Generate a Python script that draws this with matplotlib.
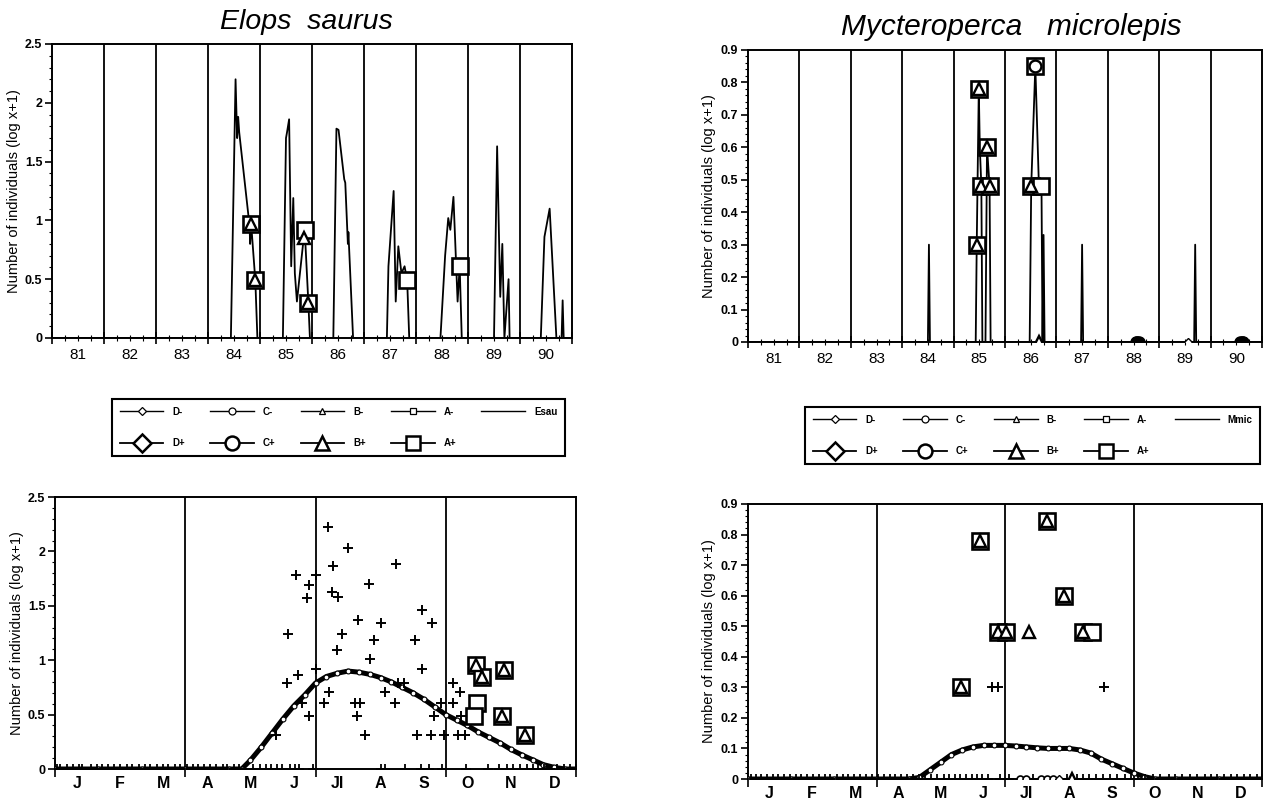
import matplotlib
matplotlib.use("Agg")
import matplotlib.pyplot as plt
from matplotlib.lines import Line2D
from matplotlib.ticker import MultipleLocator

plt.rcParams['font.family'] = ['Liberation Sans', 'DejaVu Sans']

# ---------------- DATA ----------------
year_labels = ['81', '82', '83', '84', '85', '86', '87', '88', '89', '90']
month_labels = ['J', 'F', 'M', 'A', 'M', 'J', 'Jl', 'A', 'S', 'O', 'N', 'D']

# Elops saurus time series (year, log x+1)
esau_t = [81.0, 84.44, 84.53, 84.56, 84.58, 84.60, 84.80, 84.81, 84.83, 84.91, 84.95,
          85.44, 85.50, 85.52, 85.56, 85.60, 85.64, 85.67, 85.71, 85.84, 85.86, 85.93, 85.96,
          86.41, 86.47, 86.51, 86.62, 86.64, 86.69, 86.70, 86.79,
          87.44, 87.47, 87.57, 87.61, 87.66, 87.72, 87.78, 87.83, 87.87,
          88.47, 88.56, 88.62, 88.66, 88.72, 88.80, 88.84, 88.88,
          89.50, 89.56, 89.62, 89.66, 89.70, 89.78, 89.80,
          90.40, 90.47, 90.57, 90.70, 90.80, 90.82, 90.84, 91.0]
esau_y = [0.0, 0.0, 2.20, 1.70, 1.88, 1.75, 0.95, 0.80, 0.97, 0.49, 0.0,
          0.0, 1.70, 1.75, 1.86, 0.61, 1.19, 0.55, 0.31, 0.85, 0.92, 0.30, 0.0,
          0.0, 1.78, 1.77, 1.35, 1.32, 0.80, 0.90, 0.0,
          0.0, 0.61, 1.25, 0.31, 0.78, 0.55, 0.61, 0.49, 0.0,
          0.0, 0.70, 1.02, 0.92, 1.20, 0.31, 0.61, 0.0,
          0.0, 1.63, 0.35, 0.80, 0.0, 0.50, 0.0,
          0.0, 0.86, 1.10, 0.0, 0.0, 0.32, 0.0, 0.0]
esau_Ap_t = [84.83, 84.91, 85.86, 85.93, 87.83, 88.84]
esau_Ap_y = [0.97, 0.49, 0.92, 0.30, 0.49, 0.61]
esau_Bp_t = [84.83, 84.91, 85.84, 85.93]
esau_Bp_y = [0.97, 0.49, 0.85, 0.30]

# Mycteroperca microlepis time series
mmic_t = [81.0, 84.50, 84.52, 84.54, 85.43, 85.45, 85.49, 85.51, 85.54, 85.56, 85.62, 85.65,
          85.70, 85.72, 86.48, 86.51, 86.59, 86.66, 86.71, 86.73, 86.75, 86.77,
          87.48, 87.50, 87.52, 89.68, 89.70, 89.72, 91.0]
mmic_y = [0.0, 0.0, 0.30, 0.0, 0.0, 0.30, 0.78, 0.60, 0.48, 0.0, 0.0, 0.60,
          0.48, 0.0, 0.0, 0.48, 0.85, 0.48, 0.48, 0.0, 0.33, 0.0,
          0.0, 0.30, 0.0, 0.0, 0.30, 0.0, 0.0]
mmic_Ap_t = [85.45, 85.49, 85.54, 85.65, 85.70, 86.59, 86.51, 86.71]
mmic_Ap_y = [0.30, 0.78, 0.48, 0.60, 0.48, 0.85, 0.48, 0.48]
mmic_Bp_t = [85.45, 85.49, 85.54, 85.65, 85.70, 86.51, 86.66]
mmic_Bp_y = [0.30, 0.78, 0.48, 0.60, 0.48, 0.48, 0.0]
mmic_Cp_t = [86.59]
mmic_Cp_y = [0.85]
mmic_Cm_t = [88.54, 88.57, 88.60, 90.58, 90.61, 90.64]
mmic_Cm_y = [0.0, 0.0, 0.0, 0.0, 0.0, 0.0]
mmic_Dm_t = [89.56]
mmic_Dm_y = [0.0]

# Seasonal (month, log x+1) -- Elops saurus
es_plus_x = [6.29, 6.76, 7.85, 6.41, 5.55, 6.02, 5.84, 7.23, 6.38, 6.52, 5.81, 8.46, 6.98,
             7.51, 8.68, 5.36, 6.60, 7.34, 8.29, 6.50, 7.26, 6.02, 8.46, 5.60, 5.34, 9.17,
             8.03, 7.89, 6.31, 7.61, 9.33, 6.19, 5.70, 6.90, 7.02, 7.83, 8.88, 9.17, 5.86,
             6.95, 8.72, 9.36, 7.14, 8.34, 8.65, 8.95, 9.29, 9.45, 5.10]
es_plus_y = [2.22, 2.03, 1.88, 1.87, 1.78, 1.78, 1.69, 1.70, 1.63, 1.58, 1.57, 1.46, 1.37,
             1.34, 1.34, 1.24, 1.24, 1.19, 1.19, 1.09, 1.01, 0.92, 0.92, 0.86, 0.79, 0.79,
             0.79, 0.79, 0.71, 0.71, 0.71, 0.61, 0.61, 0.61, 0.61, 0.61, 0.61, 0.61, 0.49,
             0.49, 0.49, 0.49, 0.31, 0.31, 0.31, 0.31, 0.31, 0.31, 0.31]
es_zero_x = [0.04, 0.12, 0.27, 0.41, 0.55, 0.63, 0.82, 0.97, 1.08, 1.22, 1.37, 1.49, 1.66,
             1.78, 1.93, 2.08, 2.19, 2.36, 2.48, 2.61, 2.77, 2.88, 3.04, 3.17, 3.29, 3.43,
             3.58, 3.71, 3.86, 3.97, 4.12, 4.24, 4.38, 4.55, 4.73, 4.86, 4.98, 5.12, 5.23,
             5.41, 5.52, 5.63, 5.94, 7.52, 7.60, 8.06, 8.43, 8.62, 8.91, 9.46, 9.97, 10.22,
             10.41, 10.55, 10.71, 10.88, 11.02, 11.13, 11.27, 11.41, 11.56, 11.72, 11.86, 12.0]
es_curve_x = [0.0, 1.0, 2.0, 3.0, 4.0, 4.3, 4.5, 4.75, 5.0, 5.25, 5.5, 5.75, 6.0, 6.25, 6.5,
              6.75, 7.0, 7.25, 7.5, 7.75, 8.0, 8.25, 8.5, 8.75, 9.0, 9.25, 9.5, 9.75, 10.0,
              10.25, 10.5, 10.75, 11.0, 11.25, 11.5, 11.75, 12.0]
es_curve_y = [0.0, 0.0, 0.0, 0.0, 0.0, 0.0, 0.08, 0.20, 0.33, 0.46, 0.58, 0.68, 0.79, 0.85,
              0.88, 0.90, 0.89, 0.87, 0.84, 0.80, 0.75, 0.70, 0.64, 0.57, 0.50, 0.45, 0.40,
              0.34, 0.29, 0.24, 0.18, 0.13, 0.085, 0.04, 0.015, 0.0, 0.0]
es_Ap_x = [9.69, 9.83, 10.35, 9.71, 9.64, 10.30, 10.82]
es_Ap_y = [0.96, 0.85, 0.91, 0.61, 0.49, 0.49, 0.31]
es_Bp_x = [9.69, 9.83, 10.35, 10.30, 10.82]
es_Bp_y = [0.96, 0.85, 0.91, 0.49, 0.31]

# Seasonal -- Mycteroperca microlepis
mm_plus_x = [5.69, 5.83, 8.30]
mm_plus_y = [0.30, 0.30, 0.30]
mm_zero_x = [0.06, 0.18, 0.31, 0.44, 0.58, 0.71, 0.83, 0.97, 1.11, 1.24, 1.38, 1.52, 1.66,
             1.79, 1.92, 2.07, 2.21, 2.34, 2.47, 2.62, 2.75, 2.89, 3.03, 3.18, 3.31, 3.44,
             3.58, 3.72, 3.85, 3.99, 4.13, 4.28, 4.41, 4.57, 4.69, 4.84, 4.96, 5.08, 5.22,
             5.35, 5.47, 5.61, 5.88, 6.10, 6.65, 7.45, 7.68, 7.83, 7.97, 8.12, 8.28, 8.44,
             8.61, 8.79, 8.93, 9.11, 9.28, 9.46, 9.63, 9.82, 9.97, 10.14, 10.33, 10.49,
             10.66, 10.82, 10.96, 11.12, 11.27, 11.42, 11.58, 11.73, 11.88, 12.0]
mm_curve_x = [0.0, 1.0, 2.0, 3.0, 3.75, 4.0, 4.25, 4.5, 4.75, 5.0, 5.25, 5.5, 5.75, 6.0,
              6.25, 6.5, 6.75, 7.0, 7.25, 7.5, 7.75, 8.0, 8.25, 8.5, 8.75, 9.0, 9.25, 9.5,
              10.0, 11.0, 12.0]
mm_curve_y = [0.0, 0.0, 0.0, 0.0, 0.0, 0.005, 0.03, 0.055, 0.08, 0.095, 0.105, 0.11, 0.11,
              0.11, 0.108, 0.105, 0.102, 0.10, 0.10, 0.10, 0.095, 0.085, 0.065, 0.05, 0.035,
              0.02, 0.008, 0.0, 0.0, 0.0, 0.0]
mm_Ap_x = [4.98, 5.41, 5.83, 6.02, 6.97, 7.37, 7.81, 8.02]
mm_Ap_y = [0.30, 0.78, 0.48, 0.48, 0.845, 0.60, 0.48, 0.48]
mm_Bp_x = [4.98, 5.41, 5.83, 6.02, 6.55, 6.97, 7.37, 7.81, 7.56]
mm_Bp_y = [0.30, 0.78, 0.48, 0.48, 0.48, 0.845, 0.60, 0.48, 0.0]
mm_Cm_x = [6.36, 6.50, 6.83, 6.97, 7.11]
mm_Cm_y = [0.0, 0.0, 0.0, 0.0, 0.0]
mm_Dm_x = [7.26]
mm_Dm_y = [0.0]

# ---------------- FIGURE ----------------
W, H = 1278, 807
fig = plt.figure(figsize=(W / 100, H / 100), dpi=100)


def add_ax(l, t, r, b):
    return fig.add_axes([l / W, 1 - b / H, (r - l) / W, (b - t) / H])


YLAB = 'Number of individuals (log x+1)'


def base_style(ax, ymax, ymaj, ymin, fmt):
    ax.set_ylim(0, ymax)
    for s in ax.spines.values():
        s.set_linewidth(1.4)
    ax.yaxis.set_minor_locator(MultipleLocator(ymin))
    ticks = [i * ymaj for i in range(int(round(ymax / ymaj)) + 1)]
    ax.set_yticks(ticks, [fmt(v) for v in ticks])
    ax.tick_params(axis='y', which='major', direction='out', length=5, width=1.2,
                   labelsize=9, pad=2)
    ax.tick_params(axis='y', which='minor', direction='out', length=2.5, width=0.8)
    for lab in ax.get_yticklabels():
        lab.set_fontweight('bold')
    ax.set_ylabel(YLAB, fontsize=10.5, labelpad=3)


def style_years(ax):
    ax.set_xlim(81, 91)
    for yb in range(82, 91):
        ax.axvline(yb, color='black', lw=1.3, zorder=1)
    ax.set_xticks(list(range(81, 92)), [''] * 11)
    qpos = [81 + q * 0.25 for q in range(41) if q % 4 != 0]
    qlab = [year_labels[int(p - 81)] if abs((p % 1) - 0.5) < 1e-6 else '' for p in qpos]
    ax.set_xticks(qpos, qlab, minor=True)
    ax.tick_params(axis='x', which='major', direction='inout', length=9, width=1.2)
    ax.tick_params(axis='x', which='minor', direction='inout', length=4, width=0.8,
                   labelsize=11, pad=5)


def style_months(ax):
    ax.set_xlim(0, 12)
    for mb in [3, 6, 9]:
        ax.axvline(mb, color='black', lw=1.3, zorder=1)
    ax.set_xticks([0, 3, 6, 9, 12], [''] * 5)
    ax.set_xticks([m + 0.5 for m in range(12)], month_labels, minor=True)
    ax.tick_params(axis='x', which='major', direction='out', length=6, width=1.2)
    ax.tick_params(axis='x', which='minor', length=0, labelsize=11.5, pad=5)
    for lab in ax.get_xticklabels(minor=True):
        lab.set_fontweight('bold')


sq_kw = dict(marker='s', ms=11, mfc='white', mec='black', mew=1.9, ls='none', zorder=5)
tri_kw = dict(marker='^', ms=9, mfc='white', mec='black', mew=1.7, ls='none', zorder=6)
circ_kw = dict(marker='o', ms=8.5, mfc='white', mec='black', mew=1.7, ls='none', zorder=6)
cm_kw = dict(marker='o', ms=5, mfc='white', mec='black', mew=1.2, ls='none', zorder=6)
dm_kw = dict(marker='D', ms=4.5, mfc='white', mec='black', mew=1.0, ls='none', zorder=6)

# --- top-left: Elops saurus by year
ax1 = add_ax(52, 44, 572, 338)
base_style(ax1, 2.5, 0.5, 0.1, lambda v: '%g' % round(v, 2))
style_years(ax1)
ax1.plot(esau_t, esau_y, color='black', lw=1.3, zorder=3)
ax1.plot(esau_Ap_t, esau_Ap_y, **sq_kw)
ax1.plot(esau_Bp_t, esau_Bp_y, **tri_kw)
fig.text(306 / W, 1 - 22 / H, 'Elops  saurus', fontsize=20.5, style='italic',
         ha='center', va='center')

# --- top-right: Mycteroperca microlepis by year
ax2 = add_ax(748, 50, 1262, 342)
base_style(ax2, 0.9, 0.1, 0.02, lambda v: '%g' % round(v, 1))
style_years(ax2)
ax2.plot(mmic_t, mmic_y, color='black', lw=1.3, zorder=3)
ax2.plot(mmic_Ap_t, mmic_Ap_y, **sq_kw)
ax2.plot(mmic_Bp_t, mmic_Bp_y, **tri_kw)
ax2.plot(mmic_Cp_t, mmic_Cp_y, **circ_kw)
ax2.plot(mmic_Cm_t, mmic_Cm_y, marker='o', ms=8, mfc='black', mec='black', ls='none', zorder=6)
ax2.plot(mmic_Dm_t, mmic_Dm_y, **dm_kw)
fig.text(1011 / W, 1 - 27 / H, 'Mycteroperca   microlepis', fontsize=21.5, style='italic',
         ha='center', va='center')

# --- bottom-left: Elops saurus by month
ax3 = add_ax(55, 497, 576, 769)
base_style(ax3, 2.5, 0.5, 0.1, lambda v: '%g' % round(v, 2))
style_months(ax3)
ax3.plot(es_zero_x, [0.0] * len(es_zero_x), marker='+', ms=7, mew=1.3, color='black',
         ls='none', zorder=4)
ax3.plot(es_plus_x, es_plus_y, marker='+', ms=7.5, mew=1.4, color='black', ls='none', zorder=4)
ax3.plot(es_curve_x, es_curve_y, color='black', lw=3.6, zorder=3)
ax3.plot(es_curve_x, es_curve_y, marker='o', ms=3.5, mfc='white', mec='black', mew=0.8,
         ls='none', zorder=3)
ax3.plot(es_Ap_x, es_Ap_y, **sq_kw)
ax3.plot(es_Bp_x, es_Bp_y, **tri_kw)

# --- bottom-right: Mycteroperca microlepis by month
ax4 = add_ax(748, 504, 1262, 779)
base_style(ax4, 0.9, 0.1, 0.02, lambda v: '%g' % round(v, 1))
style_months(ax4)
ax4.plot(mm_zero_x, [0.0] * len(mm_zero_x), marker='+', ms=7, mew=1.3, color='black',
         ls='none', zorder=4)
ax4.plot(mm_plus_x, mm_plus_y, marker='+', ms=7.5, mew=1.4, color='black', ls='none', zorder=4)
ax4.plot(mm_curve_x, mm_curve_y, color='black', lw=3.6, zorder=3)
ax4.plot(mm_curve_x, mm_curve_y, marker='o', ms=3.5, mfc='white', mec='black', mew=0.8,
         ls='none', zorder=3)
ax4.plot(mm_Cm_x, mm_Cm_y, **cm_kw)
ax4.plot(mm_Dm_x, mm_Dm_y, **dm_kw)
ax4.plot(mm_Ap_x, mm_Ap_y, **sq_kw)
ax4.plot(mm_Bp_x, mm_Bp_y, **tri_kw)


# --- legends
def legend_handles(last):
    small = dict(color='black', lw=1.0, mfc='white', mec='black', mew=0.9, ms=5)
    big = dict(color='black', lw=1.3, mfc='white', mec='black', mew=1.8, ms=10)
    hs = [Line2D([], [], marker='D', **{**small, 'ms': 4.5}),
          Line2D([], [], marker='D', **{**big, 'ms': 9}),
          Line2D([], [], marker='o', **small),
          Line2D([], [], marker='o', **big),
          Line2D([], [], marker='^', **small),
          Line2D([], [], marker='^', **big),
          Line2D([], [], marker='s', **small),
          Line2D([], [], marker='s', **big),
          Line2D([], [], color='black', lw=1.0)]
    labs = ['D-', 'D+', 'C-', 'C+', 'B-', 'B+', 'A-', 'A+', last]
    return hs, labs


def make_legend(l, t, r, b, last):
    hs, labs = legend_handles(last)
    leg = fig.legend(hs, labs, loc='center', ncol=5, mode='expand',
                     bbox_to_anchor=(l / W, 1 - b / H, (r - l) / W, (b - t) / H),
                     bbox_transform=fig.transFigure, frameon=True, fancybox=False,
                     edgecolor='black', framealpha=1, handlelength=4.5, handletextpad=0.9,
                     columnspacing=1.2, labelspacing=2.2, prop={'size': 7, 'weight': 'bold'},
                     borderpad=0.8)
    leg.get_frame().set_linewidth(1.5)
    return leg


make_legend(107, 392, 570, 463, 'Esau')
make_legend(800, 403, 1265, 468, 'Mmic')

fig.savefig('out.png', dpi=100, facecolor='white')
